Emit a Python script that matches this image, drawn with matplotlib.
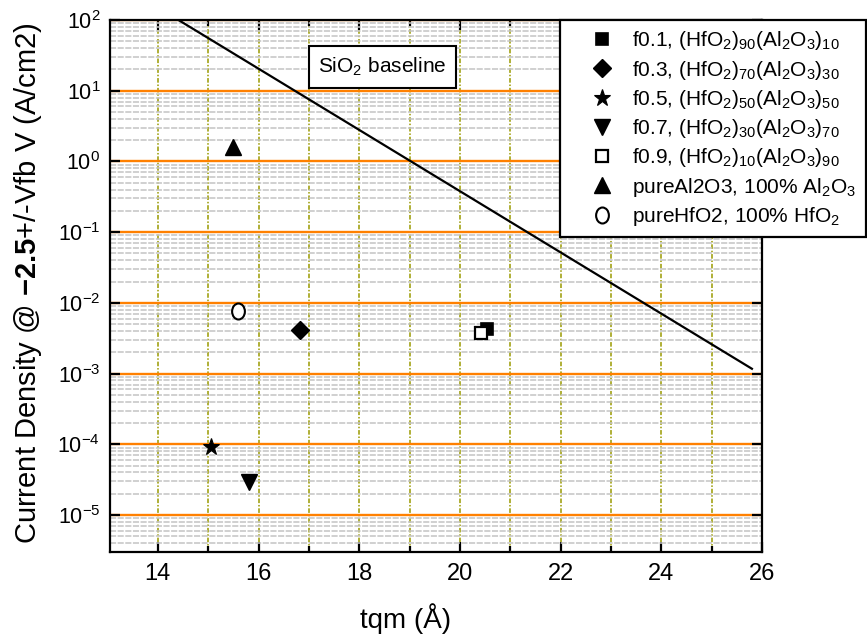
import numpy as np
import matplotlib
matplotlib.use("Agg")
import matplotlib.pyplot as plt
from matplotlib.path import Path
from matplotlib.transforms import Affine2D
from matplotlib.ticker import MultipleLocator, FixedLocator, LogLocator, NullFormatter, FuncFormatter

plt.rcParams["font.family"] = ["Liberation Sans", "DejaVu Sans"]
plt.rcParams["mathtext.fontset"] = "custom"
plt.rcParams["mathtext.rm"] = "Liberation Sans"
plt.rcParams["mathtext.it"] = "Liberation Sans:italic"
plt.rcParams["mathtext.bf"] = "Liberation Sans:bold"

# ---- data -------------------------------------------------------------
series_labels = [
    r"f0.1, (HfO$_2$)$_{90}$(Al$_2$O$_3$)$_{10}$",
    r"f0.3, (HfO$_2$)$_{70}$(Al$_2$O$_3$)$_{30}$",
    r"f0.5, (HfO$_2$)$_{50}$(Al$_2$O$_3$)$_{50}$",
    r"f0.7, (HfO$_2$)$_{30}$(Al$_2$O$_3$)$_{70}$",
    r"f0.9, (HfO$_2$)$_{10}$(Al$_2$O$_3$)$_{90}$",
    r"pureAl2O3, 100% Al$_2$O$_3$",
    r"pureHfO2, 100% HfO$_2$",
]
tqm = [20.54, 16.82, 15.05, 15.82, 20.42, 15.49, 15.59]          # Angstrom
current_density = [4.3e-3, 4.2e-3, 9.1e-5, 2.9e-5, 3.76e-3, 1.62, 7.7e-3]  # A/cm2

baseline_tqm = [14.41, 25.80]
baseline_j = [100.0, 1.17e-3]
baseline_label = r"SiO$_2$ baseline"

y_decades = [1e-5, 1e-4, 1e-3, 1e-2, 1e-1, 1e0, 1e1, 1e2]

# ---- marker styles ----------------------------------------------------
ellipse = Path.unit_circle().transformed(Affine2D().scale(0.8, 1.0))
styles = [
    dict(marker="s", ms=9, mfc="black", mec="black", mew=1.2),
    dict(marker="D", ms=9, mfc="black", mec="black", mew=1.0),
    dict(marker="*", ms=12.5, mfc="black", mec="black", mew=0.8),
    dict(marker="v", ms=11.5, mfc="black", mec="black", mew=1.0),
    dict(marker="s", ms=8, mfc="white", mec="black", mew=1.6),
    dict(marker="^", ms=11.5, mfc="black", mec="black", mew=1.0),
    dict(marker=ellipse, ms=11.5, mfc="white", mec="black", mew=1.5),
]

W, H = 867, 640
fig = plt.figure(figsize=(W / 100, H / 100), dpi=100)
ax = fig.add_axes([110 / W, 1 - 552 / H, 652 / W, 532 / H])

ax.set_yscale("log")
ax.set_xlim(13.05, 26)
ax.set_ylim(3.0e-6, 100)

# grid: dotted olive verticals, orange decades, grey dashed minor decades
ax.xaxis.set_major_locator(MultipleLocator(2))
ax.xaxis.set_minor_locator(MultipleLocator(1))
ax.yaxis.set_major_locator(FixedLocator(y_decades))
ax.yaxis.set_minor_locator(LogLocator(base=10, subs=np.arange(2, 10), numticks=20))
ax.yaxis.set_minor_formatter(NullFormatter())
ax.yaxis.set_major_formatter(
    FuncFormatter(lambda v, p: r"$\mathregular{10^{%d}}$" % int(round(np.log10(v))))
)
ax.xaxis.set_major_formatter(FuncFormatter(lambda v, p: "%d" % v))

ax.grid(which="both", axis="x", color="#9a9a00", linestyle=(0, (3, 1.2, 1, 1.2)), lw=1.1)
ax.grid(which="minor", axis="y", color="#c4c4c4", linestyle=(0, (4, 1)), lw=1.1)
ax.grid(which="major", axis="y", color="#ff8000", lw=1.7)

for s in ax.spines.values():
    s.set_linewidth(1.6)
    s.set_zorder(3)

ax.tick_params(which="both", direction="in", top=True, right=True, width=1.6, colors="black")
ax.tick_params(axis="x", which="major", length=7.5, labelsize=17, pad=8)
ax.tick_params(axis="x", which="minor", length=4)
ax.tick_params(axis="y", which="major", length=7.5, labelsize=15.5, pad=7)
ax.tick_params(axis="y", which="minor", length=0)

# baseline
ax.plot(baseline_tqm, baseline_j, color="black", lw=1.6, zorder=4)
ax.text(0.319, 0.9117, baseline_label, transform=ax.transAxes, fontsize=15,
        ha="left", va="center", zorder=5,
        bbox=dict(boxstyle="square,pad=0.45", fc="white", ec="black", lw=1.5))

# points
handles = []
for x, y, st, lab in zip(tqm, current_density, styles, series_labels):
    (h,) = ax.plot([x], [y], linestyle="none", zorder=6, label=lab, **st)
    handles.append(h)

ax.set_xlabel("tqm (Å)", fontsize=20)
ax.xaxis.set_label_coords(0.454, -0.097)
ax.set_ylabel(r"Current Density @ $\mathbf{-2.5}$+/-Vfb V (A/cm2)", fontsize=21)
ax.yaxis.set_label_coords(-0.101, 0.505)

leg = fig.legend(handles, series_labels, loc="upper left",
                 bbox_to_anchor=(560 / W, 1 - 239 / H, 306 / W, 219 / H),
                 mode="expand", borderaxespad=0, fontsize=15, frameon=True,
                 fancybox=False, edgecolor="black", framealpha=1,
                 handlelength=3.1, handletextpad=-0.1, labelspacing=0.3,
                 borderpad=0.45)
leg.get_frame().set_linewidth(1.6)

fig.savefig("out.png", dpi=100)
